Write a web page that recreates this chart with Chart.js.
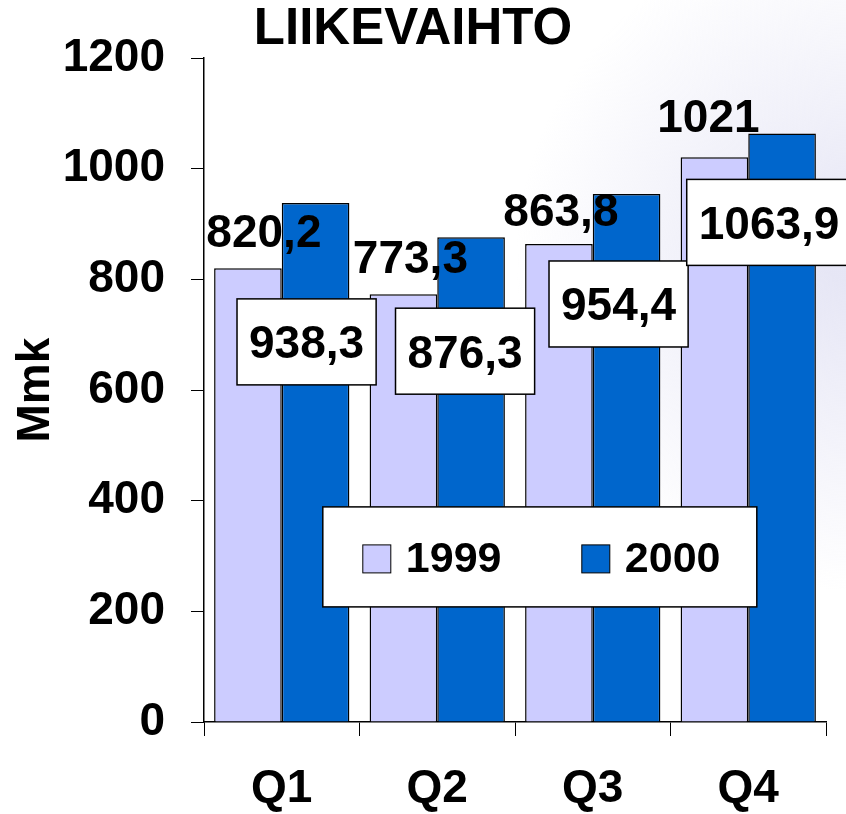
<!DOCTYPE html>
<html>
<head>
<meta charset="utf-8">
<title>Liikevaihto</title>
<script src="https://cdn.jsdelivr.net/npm/chart.js@4/dist/chart.umd.min.js"></script>
<style>
    html, body { margin: 0; padding: 0; background: #fff; }
    #wrap { width: 846px; height: 814px; }
</style>
</head>
<body>
<div id="wrap"><canvas id="sales_chart" width="846" height="814"></canvas></div>
<script>
    const quarters = ['Q1', 'Q2', 'Q3', 'Q4'];
    const sales1999 = [820.2, 773.3, 863.8, 1021];
    const sales2000 = [938.3, 876.3, 954.4, 1063.9];
    const yTicks = [0, 200, 400, 600, 800, 1000, 1200];

    // label nudges (text centre relative to bar top centre), like the hand placed ones in the slide
    const shift1999 = [[16, -38], [7, -38], [2, -35], [-6, -42]];
    const shift2000 = [[-9, 139], [-6, 114], [-8, 110], [-13, 89]];

    const FONT = '"Liberation Sans", Arial, sans-serif';

    const fmt = function (v) {
        return String(v).replace('.', ',');
    };

    const capText = function (ctx, text, cx, cy, size) {
        ctx.font = 'bold ' + size + 'px ' + FONT;
        ctx.textAlign = 'center';
        ctx.textBaseline = 'alphabetic';
        ctx.fillStyle = '#000';
        ctx.fillText(text, cx, cy + size * 0.358);
    };

    const backdrop = {
        id: 'backdrop',
        beforeDraw(chart) {
            const ctx = chart.ctx;
            ctx.save();
            const g = ctx.createRadialGradient(846, 260, 20, 846, 260, 330);
            g.addColorStop(0, 'rgba(222,222,242,0.75)');
            g.addColorStop(1, 'rgba(222,222,242,0)');
            ctx.fillStyle = g;
            ctx.fillRect(0, 0, chart.width, chart.height);
            ctx.restore();
        }
    };

    const valueLabels = {
        id: 'valueLabels',
        afterDatasetsDraw(chart) {
            const ctx = chart.ctx;
            ctx.save();
            // 1999: plain text above the bars
            chart.getDatasetMeta(0).data.forEach((bar, i) => {
                const s = shift1999[i];
                capText(ctx, fmt(sales1999[i]), bar.x + s[0], bar.y + s[1], 46);
            });
            // 2000: boxed labels sitting inside the bars
            chart.getDatasetMeta(1).data.forEach((bar, i) => {
                const s = shift2000[i];
                const cx = bar.x + s[0];
                const cy = bar.y + s[1];
                const text = fmt(sales2000[i]);
                ctx.font = 'bold 46px ' + FONT;
                const w = ctx.measureText(text).width + 24;
                const h = 86;
                ctx.fillStyle = '#fff';
                ctx.fillRect(cx - w / 2, cy - h / 2, w, h);
                ctx.lineWidth = 1.5;
                ctx.strokeStyle = '#000';
                ctx.strokeRect(cx - w / 2, cy - h / 2, w, h);
                capText(ctx, text, cx, cy, 46);
            });
            ctx.restore();
        }
    };

    const boxLegend = {
        id: 'boxLegend',
        afterDraw(chart) {
            const ctx = chart.ctx;
            const area = chart.chartArea;
            const left = area.left + (area.right - area.left) * 0.191;
            const top = area.top + (area.bottom - area.top) * 0.676;
            const w = 434;
            const h = 100;
            ctx.save();
            ctx.fillStyle = '#fff';
            ctx.fillRect(left, top, w, h);
            ctx.lineWidth = 1.5;
            ctx.strokeStyle = '#000';
            ctx.strokeRect(left, top, w, h);
            const cy = top + h / 2;
            const itemX = [left + 40, left + 259];
            chart.data.datasets.forEach((ds, i) => {
                ctx.fillStyle = ds.backgroundColor;
                ctx.fillRect(itemX[i], cy - 12, 28, 28);
                ctx.lineWidth = 1;
                ctx.strokeStyle = '#000';
                ctx.strokeRect(itemX[i], cy - 12, 28, 28);
                ctx.font = 'bold 43px ' + FONT;
                ctx.textAlign = 'left';
                ctx.textBaseline = 'alphabetic';
                ctx.fillStyle = '#000';
                ctx.fillText(ds.label, itemX[i] + 43, cy + 43 * 0.358);
            });
            ctx.restore();
        }
    };

    const ctx = document.getElementById('sales_chart').getContext('2d');
    const salesChart = new Chart(ctx, {
        type: 'bar',
        data: {
            labels: quarters,
            datasets: [{
                label: '1999',
                data: sales1999,
                backgroundColor: '#CCCCFF',
                borderColor: '#000',
                borderWidth: 1.5,
                categoryPercentage: 0.87,
                barPercentage: 1.0
            }, {
                label: '2000',
                data: sales2000,
                backgroundColor: '#0066CC',
                borderColor: '#000',
                borderWidth: 1.5,
                categoryPercentage: 0.87,
                barPercentage: 1.0
            }]
        },
        options: {
            responsive: false,
            animation: false,
            layout: {
                padding: {top: 0, right: 20, bottom: 0, left: 0}
            },
            scales: {
                x: {
                    grid: {
                        display: true,
                        drawOnChartArea: false,
                        drawTicks: true,
                        tickLength: 14,
                        color: '#000',
                        offset: true
                    },
                    border: {color: '#000', width: 1.5},
                    ticks: {
                        color: '#000',
                        padding: 26,
                        maxRotation: 0,
                        font: {family: FONT, size: 46, weight: 'bold'}
                    },
                    afterFit: function (scale) {
                        scale.height = 92;
                    }
                },
                y: {
                    min: 0,
                    max: 1200,
                    afterBuildTicks: function (scale) {
                        scale.ticks = yTicks.map(v => ({value: v}));
                    },
                    grid: {
                        display: true,
                        drawOnChartArea: false,
                        drawTicks: true,
                        tickLength: 13,
                        color: '#000'
                    },
                    border: {color: '#000', width: 1.5},
                    ticks: {
                        color: '#000',
                        padding: 26,
                        font: {family: FONT, size: 46, weight: 'bold'},
                        callback: function (value) {
                            return String(value);
                        }
                    },
                    title: {
                        display: true,
                        text: 'Mmk',
                        color: '#000',
                        padding: {top: 9, bottom: 0},
                        font: {family: FONT, size: 46, weight: 'bold'}
                    },
                    afterFit: function (scale) {
                        scale.width = 204;
                    }
                }
            },
            plugins: {
                legend: {display: false},
                tooltip: {enabled: false},
                title: {
                    display: true,
                    text: 'LIIKEVAIHTO',
                    color: '#000',
                    padding: {top: 2, bottom: 0},
                    font: {family: FONT, size: 51, weight: 'bold', lineHeight: 1.1}
                }
            }
        },
        plugins: [backdrop, valueLabels, boxLegend]
    });
</script>
</body>
</html>
